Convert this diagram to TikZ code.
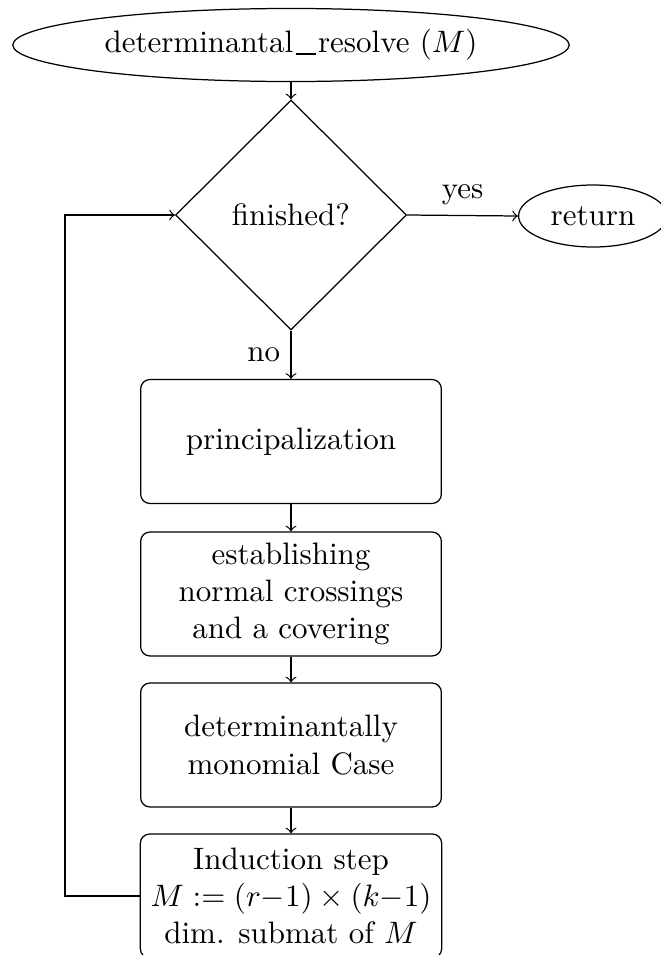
\documentclass[tikz,border=0pt]{standalone}
\usetikzlibrary{shapes.geometric}
% underscore drawn as a thin rule just below the baseline
\newcommand{\ulbar}{\kern.1em\rule[-0.6pt]{0.65em}{0.4pt}\kern.05em}
\begin{document}
\begin{tikzpicture}[x=0.32258pt,y=-0.32258pt,
  terminal/.style={ellipse,draw,inner sep=3.33pt},
  decision/.style={diamond,draw,minimum width=74.5pt,minimum height=74.2pt,inner sep=1pt},
  process/.style={rectangle,draw,rounded corners=3pt,minimum width=97pt,minimum height=40pt,align=center},
  flow/.style={->}]
\useasboundingbox (0,0) rectangle (661,955);
\clip (0,0) rectangle (661,955);

% nodes of the flow chart
\node[terminal] (start) at (291,45) {determinantal\ulbar resolve $(M)$};
\node[decision] (dec) at (291,215) {finished?};
\node[terminal,minimum height=20pt] (ret) at (593,216) {return};
\node[process] (prin) at (291,441.5) {principalization};
\node[process] (ncross) at (291,594) {establishing\\normal crossings\\and a covering};
\node[process] (mono) at (291,745) {determinantally\\monomial Case};
\node[process] (induct) at (291,896) {Induction step\\$M := (r{-}1)\times(k{-}1)$\\dim. submat of $M$};
\coordinate (loopx) at (65,555);

% connectors
\draw[flow] (start) -- (dec);
\draw[flow] (dec.east) -- node[above] {yes} (ret.west);
\draw[flow] (dec.south) -- node[left] {no} (prin.north);
\draw[flow] (prin) -- (ncross);
\draw[flow] (ncross) -- (mono);
\draw[flow] (mono) -- (induct);
\draw[flow] (induct.west) -| (loopx) |- (dec.west);
\end{tikzpicture}
\end{document}
